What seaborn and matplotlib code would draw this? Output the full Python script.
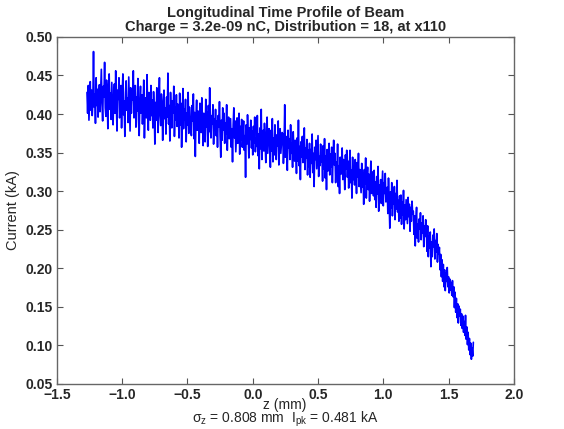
import numpy as np
import pandas as pd
import matplotlib
matplotlib.use("Agg")
import matplotlib.pyplot as plt
import seaborn as sns

# ---- data ----
z_min = -1.27
z_max = 1.69
current = [
    0.428, 0.401, 0.437, 0.392, 0.419, 0.442, 0.405, 0.431, 0.398, 0.415, 0.481, 0.409, 0.426, 0.388, 0.447, 0.411, 0.432, 0.396, 0.421, 0.438,
    0.403, 0.429, 0.458, 0.414, 0.391, 0.436, 0.422, 0.467, 0.408, 0.397, 0.444, 0.419, 0.381, 0.433, 0.452, 0.406, 0.427, 0.393, 0.441, 0.415,
    0.386, 0.424, 0.439, 0.401, 0.456, 0.412, 0.378, 0.431, 0.419, 0.447, 0.395, 0.408, 0.437, 0.382, 0.426, 0.452, 0.399, 0.417, 0.371, 0.428,
    0.443, 0.405, 0.421, 0.389, 0.448, 0.412, 0.378, 0.434, 0.401, 0.426, 0.418, 0.456, 0.395, 0.411, 0.437, 0.383, 0.422, 0.404, 0.446, 0.391,
    0.372, 0.419, 0.436, 0.401, 0.425, 0.387, 0.412, 0.444, 0.369, 0.408, 0.421, 0.395, 0.451, 0.403, 0.379, 0.428, 0.414, 0.392, 0.437, 0.398,
    0.418, 0.382, 0.429, 0.407, 0.361, 0.415, 0.392, 0.434, 0.403, 0.376, 0.421, 0.447, 0.398, 0.385, 0.426, 0.409, 0.366, 0.413, 0.431, 0.394,
    0.408, 0.374, 0.422, 0.396, 0.453, 0.387, 0.411, 0.365, 0.428, 0.399, 0.382, 0.417, 0.401, 0.436, 0.371, 0.409, 0.392, 0.425, 0.384, 0.413,
    0.401, 0.369, 0.427, 0.386, 0.414, 0.357, 0.398, 0.433, 0.381, 0.406, 0.392, 0.419, 0.364, 0.401, 0.386, 0.428, 0.375, 0.409, 0.397, 0.381,
    0.372, 0.411, 0.391, 0.426, 0.368, 0.402, 0.345, 0.397, 0.418, 0.379, 0.404, 0.386, 0.362, 0.414, 0.393, 0.376, 0.421, 0.389, 0.359, 0.401,
    0.396, 0.364, 0.419, 0.383, 0.402, 0.358, 0.411, 0.377, 0.434, 0.381, 0.369, 0.398, 0.387, 0.412, 0.361, 0.394, 0.379, 0.406, 0.372, 0.391,
    0.357, 0.398, 0.383, 0.416, 0.371, 0.344, 0.392, 0.366, 0.408, 0.379, 0.401, 0.362, 0.388, 0.374, 0.412, 0.353, 0.386, 0.396, 0.368, 0.381,
    0.394, 0.357, 0.381, 0.338, 0.386, 0.408, 0.369, 0.391, 0.351, 0.372, 0.395, 0.362, 0.379, 0.401, 0.348, 0.384, 0.366, 0.393, 0.357, 0.376,
    0.391, 0.353, 0.372, 0.318, 0.386, 0.361, 0.399, 0.374, 0.343, 0.382, 0.367, 0.392, 0.356, 0.378, 0.347, 0.384, 0.362, 0.396, 0.351, 0.369,
    0.358, 0.398, 0.346, 0.374, 0.329, 0.382, 0.355, 0.406, 0.341, 0.367, 0.379, 0.352, 0.388, 0.361, 0.337, 0.372, 0.396, 0.349, 0.366, 0.381,
    0.364, 0.331, 0.379, 0.352, 0.394, 0.338, 0.369, 0.347, 0.386, 0.356, 0.341, 0.373, 0.359, 0.391, 0.334, 0.367, 0.381, 0.349, 0.362, 0.376,
    0.374, 0.336, 0.359, 0.412, 0.344, 0.371, 0.352, 0.327, 0.379, 0.356, 0.368, 0.341, 0.386, 0.349, 0.362, 0.331, 0.377, 0.353, 0.339, 0.366,
    0.352, 0.323, 0.369, 0.339, 0.392, 0.333, 0.358, 0.315, 0.364, 0.344, 0.371, 0.337, 0.351, 0.382, 0.328, 0.356, 0.343, 0.367, 0.321, 0.353,
    0.332, 0.362, 0.318, 0.354, 0.336, 0.374, 0.324, 0.349, 0.306, 0.357, 0.341, 0.366, 0.329, 0.351, 0.372, 0.319, 0.345, 0.333, 0.361, 0.338,
    0.345, 0.313, 0.359, 0.329, 0.368, 0.317, 0.346, 0.302, 0.354, 0.326, 0.339, 0.362, 0.321, 0.348, 0.331, 0.357, 0.311, 0.343, 0.366, 0.334,
    0.349, 0.311, 0.338, 0.324, 0.361, 0.306, 0.333, 0.297, 0.344, 0.322, 0.336, 0.356, 0.315, 0.341, 0.327, 0.302, 0.347, 0.329, 0.353, 0.318,
    0.339, 0.304, 0.331, 0.353, 0.311, 0.327, 0.291, 0.344, 0.315, 0.332, 0.308, 0.341, 0.323, 0.297, 0.337, 0.318, 0.349, 0.306, 0.328, 0.313,
    0.298, 0.336, 0.305, 0.324, 0.283, 0.328, 0.309, 0.343, 0.291, 0.319, 0.331, 0.302, 0.322, 0.287, 0.316, 0.339, 0.297, 0.325, 0.308, 0.294,
    0.327, 0.289, 0.312, 0.279, 0.319, 0.296, 0.332, 0.274, 0.308, 0.291, 0.315, 0.284, 0.305, 0.326, 0.281, 0.311, 0.297, 0.323, 0.286, 0.302,
    0.305, 0.271, 0.317, 0.284, 0.252, 0.299, 0.278, 0.311, 0.268, 0.292, 0.283, 0.306, 0.263, 0.297, 0.277, 0.314, 0.273, 0.288, 0.261, 0.294,
    0.265, 0.295, 0.257, 0.286, 0.269, 0.301, 0.251, 0.282, 0.263, 0.289, 0.274, 0.258, 0.292, 0.267, 0.283, 0.248, 0.279, 0.261, 0.287, 0.271,
    0.274, 0.244, 0.268, 0.229, 0.262, 0.279, 0.239, 0.257, 0.234, 0.264, 0.251, 0.272, 0.237, 0.259, 0.246, 0.268, 0.228, 0.255, 0.241, 0.263,
    0.251, 0.222, 0.255, 0.215, 0.242, 0.226, 0.247, 0.202, 0.234, 0.215, 0.243, 0.228, 0.251, 0.212, 0.236, 0.221, 0.245, 0.208, 0.231, 0.219,
    0.227, 0.198, 0.218, 0.189, 0.211, 0.183, 0.205, 0.176, 0.198, 0.171, 0.194, 0.183, 0.201, 0.176, 0.189, 0.168, 0.186, 0.172, 0.181, 0.165,
    0.184, 0.163, 0.176, 0.149, 0.169, 0.143, 0.161, 0.136, 0.154, 0.129, 0.151, 0.138, 0.147, 0.126, 0.141, 0.122, 0.138, 0.117, 0.131, 0.113,
    0.139, 0.108, 0.124, 0.101, 0.117, 0.094, 0.109, 0.088, 0.103, 0.082, 0.097, 0.086, 0.104,
]
z = np.linspace(z_min, z_max, len(current))

x_ticks = [-1.5, -1.0, -0.5, 0.0, 0.5, 1.0, 1.5, 2.0]
y_ticks = [0.05, 0.10, 0.15, 0.20, 0.25, 0.30, 0.35, 0.40, 0.45, 0.50]

title = "Longitudinal Time Profile of Beam\nCharge = 3.2e-09 nC, Distribution = 18, at x110"
xlabel_top = "z (mm)"
xlabel_bottom = r"$\mathregular{\sigma_z}$ = 0.808 mm  I$\mathregular{_{pk}}$ = 0.481 kA"
ylabel = "Current (kA)"

df = pd.DataFrame({"z": z, "current": current})

# ---- style ----
sns.set_style("ticks")
plt.rcParams["font.family"] = ["Liberation Sans", "DejaVu Sans"]
plt.rcParams["mathtext.fontset"] = "custom"
plt.rcParams["mathtext.rm"] = "Liberation Sans"
plt.rcParams["mathtext.it"] = "Liberation Sans:italic"
plt.rcParams["mathtext.bf"] = "Liberation Sans:bold"

fig = plt.figure(figsize=(5.64, 4.29), dpi=100)
ax = fig.add_axes([0.101, 0.105, 0.81, 0.809])

sns.lineplot(data=df, x="z", y="current", ax=ax, color="#0000ff",
             linewidth=1.2, estimator=None, sort=False)

ax.set_xlim(-1.5, 2.0)
ax.set_ylim(0.05, 0.50)
ax.set_xticks(x_ticks)
ax.set_yticks(y_ticks)
ax.set_xticklabels([f"{v:.1f}".replace("-", "\u2212") for v in x_ticks],
                   fontweight="bold", fontsize=10)
ax.set_yticklabels([f"{v:.2f}" for v in y_ticks], fontweight="bold", fontsize=10)
ax.tick_params(direction="in", length=4, width=0.8, top=True, right=True,
               color="#555555", pad=3)
for s in ax.spines.values():
    s.set_visible(True)
    s.set_color("#666666")
    s.set_linewidth(1.0)

ax.set_title(title, fontweight="bold", fontsize=10.5, pad=4, linespacing=1.0)
ax.set_xlabel("")
fig.text(0.505, 0.057, xlabel_top, ha="center", va="center", fontsize=10)
fig.text(0.505, 0.023, xlabel_bottom, ha="center", va="center", fontsize=10)
ax.set_ylabel(ylabel, fontsize=10.5, labelpad=4)

fig.savefig("out.png", dpi=100)
